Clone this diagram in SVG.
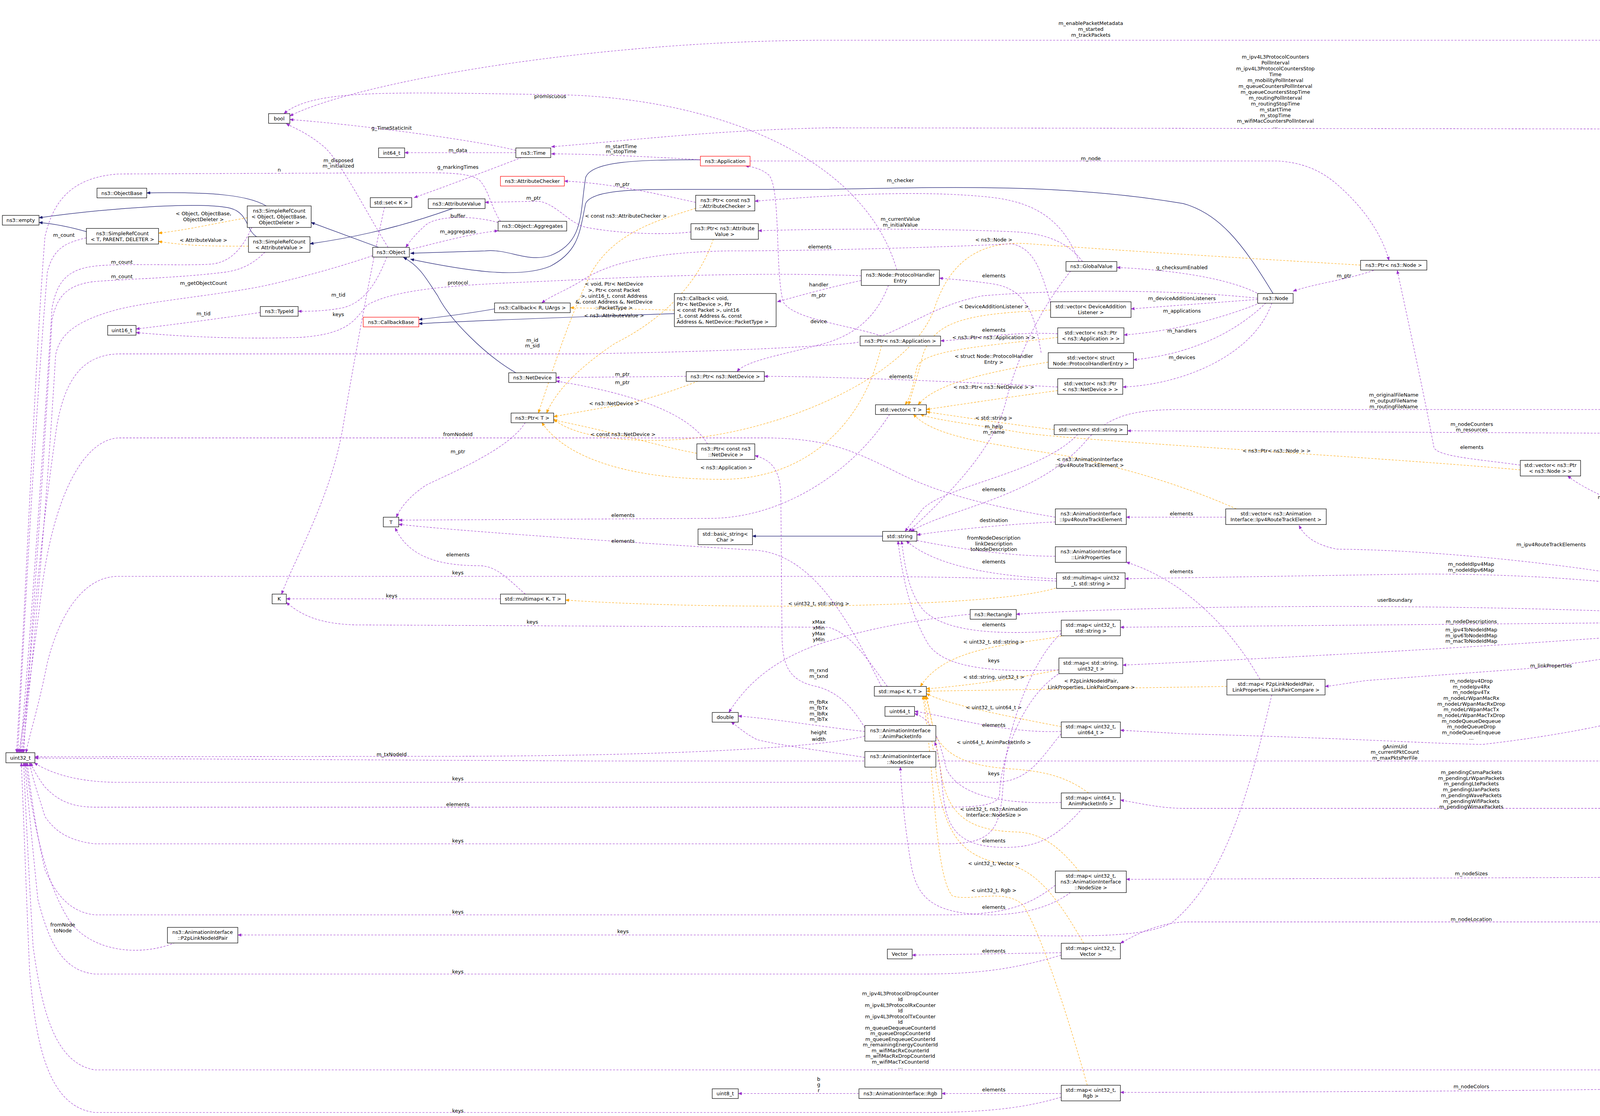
<svg xmlns="http://www.w3.org/2000/svg" width="4749" height="2856" viewBox="0 0 4749 2856">
<style>
.b rect{fill:#fff;stroke:#000;stroke-width:0.4}
.r rect{stroke:#ff0000}
.g rect{fill:#bfbfbf}
text{font-family:"DejaVu Sans","Liberation Sans",sans-serif;font-size:4.25px;fill:#000}
.b text{text-anchor:middle}
.l{text-anchor:middle}
.p{fill:none;stroke:#9a32cd;stroke-width:0.35;stroke-dasharray:1.7,1.2;marker-end:url(#ap)}
.o{fill:none;stroke:#ffa500;stroke-width:0.35;stroke-dasharray:1.7,1.2;marker-end:url(#ao)}
.n{fill:none;stroke:#191970;stroke-width:0.4;marker-end:url(#an)}
</style>
<defs>
<marker id="ap" viewBox="0 0 10 10" refX="9" refY="5" markerWidth="3.3" markerHeight="2.6" markerUnits="userSpaceOnUse" orient="auto" preserveAspectRatio="none"><path d="M0,0L10,5L0,10z" fill="#9a32cd"/></marker>
<marker id="ao" viewBox="0 0 10 10" refX="9" refY="5" markerWidth="3.3" markerHeight="2.6" markerUnits="userSpaceOnUse" orient="auto" preserveAspectRatio="none"><path d="M0,0L10,5L0,10z" fill="#ffa500"/></marker>
<marker id="an" viewBox="0 0 10 10" refX="9" refY="5" markerWidth="3.3" markerHeight="2.6" markerUnits="userSpaceOnUse" orient="auto" preserveAspectRatio="none"><path d="M0,0L10,5L0,10z" fill="#191970"/></marker>
</defs>
<rect width="4749" height="2856" fill="#fff"/>
<g transform="scale(3.02875)">
<g id="connectors">
<path class="n" d="M592,135 C540,135 500,136 495,150 C490,180 494,205 465,216 C445,222 430,210 410,212 L347,214"/>
<path class="n" d="M1076,248 C1050,205 1030,180 1000,172 C900,155 800,158 700,160 L580,160 C540,160 500,160 495,172 C490,195 490,212 465,225 C440,235 400,230 347,219"/>
<path class="n" d="M436,315 C410,300 380,270 370,250 C360,235 355,225 341,217.5"/>
<path class="n" d="M320,209 L263,188"/>
<path class="n" d="M225,174 C210,165 180,162 124,163"/>
<path class="n" d="M217,200 C208,195 210,180 195,176 C170,170 90,176 33,184"/>
<path class="n" d="M74,196 C60,192 45,189 33,188"/>
<path class="n" d="M383,176 C330,195 290,202 262,206"/>
<path class="n" d="M418,261 C390,266 370,268 354,270"/>
<path class="n" d="M570,265 C480,268 400,271 354,273.5"/>
<path class="n" d="M746,453 L636,453"/>
<path class="o" d="M209,184 C180,189 160,194 134,197"/>
<path class="o" d="M210,208 C180,208 160,208 134,204"/>
<path class="o" d="M570,262 L482,260"/>
<path class="o" d="M603,202 C590,240 560,270 520,290 C490,310 470,330 462,349"/>
<path class="o" d="M588,176 C560,185 520,195 500,230 C480,270 465,320 455,349"/>
<path class="o" d="M590,322 C570,330 540,340 520,343 C500,346 480,350 468,352"/>
<path class="o" d="M589,383 C560,378 520,365 468,355"/>
<path class="o" d="M745,292 C730,360 680,405 610,405 C540,405 480,390 458,357"/>
<path class="o" d="M1150,224 C1050,218 950,212 870,206 C820,202 800,230 790,260 C770,320 650,370 560,372 C510,373 480,365 468,354"/>
<path class="o" d="M888,262 C820,265 790,270 780,300 C775,320 770,335 768,342"/>
<path class="o" d="M894,285 C840,292 780,295 775,310 C772,325 770,335 765,342"/>
<path class="o" d="M886,306 C830,315 790,325 776,342"/>
<path class="o" d="M894,330 C850,336 810,342 783,346"/>
<path class="o" d="M891,363 C850,358 810,352 783,348"/>
<path class="o" d="M1285,397 C1150,385 900,372 860,365 C820,358 790,355 778,350"/>
<path class="o" d="M1045,430 C1000,410 950,395 900,385 C840,375 790,370 772,350"/>
<path class="o" d="M900,537 C860,545 800,545 778,580"/>
<path class="o" d="M895,566 C850,575 810,580 783,582"/>
<path class="o" d="M1037,580 L783,584"/>
<path class="o" d="M897,614 C850,605 800,595 783,586"/>
<path class="o" d="M920,670 C900,655 880,652 860,650 C820,648 800,640 790,620 C786,605 785,595 783,588"/>
<path class="o" d="M912,736 C895,715 880,704 860,703 C820,702 800,690 795,650 C790,620 786,600 782,588"/>
<path class="o" d="M916,797 C900,770 880,735 850,730 C810,725 795,700 790,640 L781,588"/>
<path class="o" d="M919,917 C900,850 880,790 865,765 C850,750 820,762 805,757 C790,740 790,650 780,588"/>
<path class="o" d="M895,496 C870,505 800,510 700,512 C600,513 520,510 478,507"/>
<path class="p" d="M1540,521.6 C1545,300 1525,60 1490,22 C1470,12 1440,13 1419,16"/>
<path class="p" d="M1536,521.6 C1530,250 1470,34 1400,34 L700,34 C500,34 300,70 245,98"/>
<path class="p" d="M1533,521.6 C1528,420 1490,180 1450,130 C1440,115 1420,109 1400,109 L700,108 C600,110 520,120 466,124"/>
<path class="p" d="M1532,521.6 C1525,420 1470,350 1400,346 L1000,346 C960,346 940,350 920,370 C880,420 800,430 770,449"/>
<path class="p" d="M1531,521.6 C1520,430 1450,366 1350,366 L953,364"/>
<path class="p" d="M1535,521.6 C1520,470 1480,432 1418,431"/>
<path class="p" d="M1530,521.6 C1515,490 1480,448 1434,447"/>
<path class="p" d="M1520,521.6 C1450,490 1250,465 1130,464 C1110,460 1102,452 1098,444"/>
<path class="p" d="M1510,522 C1450,500 1350,485 1200,485 L951,489"/>
<path class="p" d="M1508,524 C1300,509 1000,510 859,519"/>
<path class="p" d="M1507.5,525 L947,530"/>
<path class="p" d="M1507.5,527 C1300,545 1100,555 949,562"/>
<path class="p" d="M1510,529 C1450,540 1350,560 1290,565 L1155,575 C1140,577 1130,579 1120,580"/>
<path class="p" d="M1534,530 C1500,570 1420,610 1253,629 C1200,628 1150,624 1000,620 L947,617"/>
<path class="p" d="M1535,530 C1500,590 1470,643 1420,643 L500,643 C300,642 100,641 29.5,640.5"/>
<path class="p" d="M1536,530 C1520,620 1480,683 1420,683 L1000,683 C980,683 960,678 947,676"/>
<path class="p" d="M1537,530 C1530,620 1510,700 1470,706 C1450,708 1440,707 1430,704.5"/>
<path class="p" d="M1537,530 C1532,640 1500,735 1440,741 L952,743"/>
<path class="p" d="M1537,530 C1530,650 1500,770 1440,779 L1000,779 C975,781 960,790 947,797"/>
<path class="p" d="M1538,530 C1532,700 1520,850 1480,890 C1460,900 1440,904 1400,904 L80,904 C45,898 35,850 28,800 C25,750 22,690 20,644.5"/>
<path class="p" d="M1539,530 C1532,700 1500,900 1450,918 C1400,922 1000,923 947,923"/>
<path class="p" d="M758,228 C730,130 600,82 470,80 C330,78 265,75 240,96"/>
<path class="p" d="M436,127 C400,118 300,105 245,101"/>
<path class="p" d="M436,129 L342,129"/>
<path class="p" d="M592,135 C560,133 500,130 466,130"/>
<path class="p" d="M634,136 L1080,136 C1110,138 1125,150 1140,165 C1160,185 1170,205 1174,220"/>
<path class="p" d="M1161,228.5 C1140,236 1110,240 1093,246"/>
<path class="p" d="M1285,393 C1250,388 1215,386 1212,378 C1205,340 1190,270 1181,228.5"/>
<path class="p" d="M1410,443 C1380,430 1340,415 1325,402"/>
<path class="p" d="M892,441 C850,443 800,448 775,452"/>
<path class="p" d="M892,437 C850,430 800,420 760,400 C720,380 700,371 650,370 L100,370 C70,372 45,420 35,500 C25,580 20,610 16,636"/>
<path class="p" d="M1036,437 L952,437"/>
<path class="p" d="M892,470 C850,470 800,462 772,456"/>
<path class="p" d="M893,489 C840,487 790,478 766,457"/>
<path class="p" d="M897,533 C850,536 800,536 780,515 C768,500 765,480 762,457"/>
<path class="p" d="M895,566 C840,568 800,565 785,545 C770,520 763,490 759,457"/>
<path class="p" d="M750,580 C735,560 720,535 700,530 L300,528 C270,527 255,520 242,509"/>
<path class="p" d="M745,580 C720,530 690,470 640,465 C560,460 400,450 337,443"/>
<path class="p" d="M752,350 C720,400 660,438 600,438 L337,439.5"/>
<path class="p" d="M444,502 C430,490 420,478 405,478 C370,478 345,470 334,446"/>
<path class="p" d="M423,506 L242,506"/>
<path class="p" d="M444,357 C430,380 380,400 360,410 C345,420 338,430 335,437"/>
<path class="p" d="M820,519 C760,525 720,535 690,545 C650,560 630,580 616,602"/>
<path class="p" d="M731,618 C700,615 660,608 624,605"/>
<path class="p" d="M731,640 C700,635 660,630 640,625 C630,620 625,615 618,610"/>
<path class="p" d="M731,615 C722,600 710,585 690,580 C665,575 662,560 661,540 L660,420 C660,395 650,388 638,385"/>
<path class="p" d="M731,622 C700,630 600,638 400,639 L29.5,639.5"/>
<path class="p" d="M897,618 C850,620 800,605 773,601"/>
<path class="p" d="M897,678 C840,680 810,670 800,650 C795,630 790,608 773,603"/>
<path class="p" d="M915,683 C895,705 880,716 850,716 C810,716 800,700 797,670 C795,650 793,635 790,627"/>
<path class="p" d="M905,754 C890,765 870,772 840,773 C790,773 775,760 770,730 C765,700 762,670 761,648"/>
<path class="p" d="M897,805 L771,807"/>
<path class="p" d="M897,924 L796,924"/>
<path class="p" d="M726,924 L624,924"/>
<path class="p" d="M1065,574 C1040,530 1000,490 952,475"/>
<path class="p" d="M1075,587 C1060,650 1040,740 990,780 C960,795 900,790 800,790 L201,790"/>
<path class="p" d="M148,796.5 C120,808 80,805 60,780 C40,750 28,700 22,644.5"/>
<path class="p" d="M897,620 C880,640 870,661 840,661 L100,661 C70,661 45,655 29,644.5"/>
<path class="p" d="M897,568 C860,590 845,650 845,670 C845,680 830,682 800,682 L80,682 C55,682 45,672 38,665 C32,657 28,650 26,644.5"/>
<path class="p" d="M897,535 C870,560 850,620 848,660 C846,700 840,713 800,713 L80,713 C55,710 45,700 38,690 C32,670 28,660 25,644.5"/>
<path class="p" d="M892,748 C870,765 850,773 800,773 L80,773 C55,770 45,750 38,735 C30,700 26,670 23,644.5"/>
<path class="p" d="M897,807 C860,818 830,823 780,823 L80,823 C50,820 40,790 32,760 C28,720 24,680 21,644.5"/>
<path class="p" d="M897,927 C870,935 840,940 780,940 L80,940 C40,935 30,880 25,820 C22,750 20,690 18,644.5"/>
<path class="p" d="M893,491 C860,489 800,487 700,487 L100,487 C70,487 50,520 40,560 C32,600 25,620 22,636"/>
<path class="p" d="M423,187 C415,175 413,160 405,152 C395,145 370,146 340,146 L100,147 C60,150 45,170 38,200 C30,300 22,500 14,636"/>
<path class="p" d="M73,201 C55,205 45,210 40,230 C30,350 22,500 15,636"/>
<path class="p" d="M213,192 C205,210 195,221 180,223 C160,225 100,222 79,225 C55,228 48,240 44,260 C35,400 25,550 17,636"/>
<path class="p" d="M224,213 C215,222 205,228 190,230 C150,235 100,236 79,238 C55,241 48,252 44,270 C35,420 26,560 18,636"/>
<path class="p" d="M315,216 C280,228 240,238 221,242 C180,250 120,255 94,263 C60,273 50,285 47,300 C40,420 28,560 19,636"/>
<path class="p" d="M1063,252 C1000,245 900,244 830,250 C780,260 760,285 720,290 C650,296 550,298 495,299 L100,299 C70,300 55,320 48,360 C35,450 25,550 20,636"/>
<path class="p" d="M728,233 C650,230 560,233 495,236 C420,240 340,240 310,258 C300,270 295,282 255,285 C200,287 150,284 115,281"/>
<path class="p" d="M220,264 C180,270 140,275 115,278"/>
<path class="p" d="M327,217 C320,235 310,255 290,260 C275,263 262,263 252,263"/>
<path class="p" d="M325,175 C315,220 300,300 290,360 C280,420 250,470 238,502"/>
<path class="p" d="M441,133 C410,145 370,160 350,167"/>
<path class="p" d="M328,209 C310,180 290,140 275,125 C260,112 248,108 242,104.5"/>
<path class="p" d="M346,211 C370,205 400,197 421,195"/>
<path class="p" d="M421,188 C400,182 370,182 360,190 C352,197 347,203 343,209"/>
<path class="p" d="M584,196 C560,199 520,197 495,192 C480,188 470,172 455,170 L410,171"/>
<path class="p" d="M588,171 C560,165 520,155 477,153"/>
<path class="p" d="M915,221 C905,208 890,198 860,196 C800,193 700,193 641,195"/>
<path class="p" d="M912,221 C900,190 880,172 840,167 C780,160 700,165 638,170"/>
<path class="p" d="M905,229 C880,260 860,300 850,340 C840,380 800,420 768,449"/>
<path class="p" d="M911,367 C880,400 800,410 780,430 C772,440 768,445 765,449"/>
<path class="p" d="M888,256 C880,230 875,210 855,206 C820,208 700,212 615,212 C560,213 520,220 495,235 C480,245 465,250 458,256"/>
<path class="p" d="M728,237 C700,243 675,250 657,255"/>
<path class="p" d="M751,241 C740,270 720,285 690,292 C660,300 630,305 623,314"/>
<path class="p" d="M745,284 C720,275 670,270 662,255 C655,230 660,160 650,148 C643,142 635,141 630,140"/>
<path class="p" d="M580,318 L470,319"/>
<path class="p" d="M598,375 C580,345 520,330 470,322"/>
<path class="p" d="M894,327 C800,322 700,318 646,318"/>
<path class="p" d="M894,282 C850,280 820,287 795,288"/>
<path class="p" d="M880,298 C875,270 870,245 840,240 C820,237 805,236 794,235"/>
<path class="p" d="M1065,249 C1040,235 990,228 944,226"/>
<path class="p" d="M1063,253 L956,261"/>
<path class="p" d="M1065,256 C1030,270 990,280 950,283"/>
<path class="p" d="M1070,256 C1040,285 1000,300 958,304"/>
<path class="p" d="M1075,256 C1060,300 1000,325 949,327"/>
</g>
<g id="labels">
<text class="l" x="1474" y="5.5">m_f</text><text class="l" x="1474" y="10.5">m_routingF</text>
<text class="l" x="922" y="21">m_enablePacketMetadata</text><text class="l" x="922" y="26">m_started</text><text class="l" x="922" y="31">m_trackPackets</text>
<text class="l" x="1078" y="49.5">m_ipv4L3ProtocolCounters</text><text class="l" x="1078" y="54.4">PollInterval</text><text class="l" x="1078" y="59.4">m_ipv4L3ProtocolCountersStop</text><text class="l" x="1078" y="64.3">Time</text><text class="l" x="1078" y="69.3">m_mobilityPollInterval</text><text class="l" x="1078" y="74.2">m_queueCountersPollInterval</text><text class="l" x="1078" y="79.1">m_queueCountersStopTime</text><text class="l" x="1078" y="84.1">m_routingPollInterval</text><text class="l" x="1078" y="89">m_routingStopTime</text><text class="l" x="1078" y="94">m_startTime</text><text class="l" x="1078" y="98.9">m_stopTime</text><text class="l" x="1078" y="103.8">m_wifiMacCountersPollInterval</text><text class="l" x="1078" y="108.3">...</text>
<text class="l" x="465" y="83">promiscuous</text>
<text class="l" x="331" y="109.5">g_TimeStaticInit</text>
<text class="l" x="387" y="128.5">m_data</text>
<text class="l" x="525" y="125">m_startTime</text><text class="l" x="525" y="129.5">m_stopTime</text>
<text class="l" x="922" y="135.5">m_node</text>
<text class="l" x="286" y="137">m_disposed</text><text class="l" x="286" y="141.6">m_initialized</text>
<text class="l" x="236" y="145">n</text>
<text class="l" x="387" y="142.7">g_markingTimes</text>
<text class="l" x="526" y="157">m_ptr</text>
<text class="l" x="761" y="154">m_checker</text>
<text class="l" x="172" y="182">&lt; Object, ObjectBase,</text><text class="l" x="172" y="187">ObjectDeleter &gt;</text>
<text class="l" x="387" y="184">buffer</text>
<text class="l" x="529" y="184">&lt; const ns3::AttributeChecker &gt;</text>
<text class="l" x="761" y="186.5">m_currentValue</text><text class="l" x="761" y="191.5">m_initialValue</text>
<text class="l" x="387" y="197">m_aggregates</text>
<text class="l" x="54" y="200">m_count</text>
<text class="l" x="840" y="204">&lt; ns3::Node &gt;</text>
<text class="l" x="172" y="204.5">&lt; AttributeValue &gt;</text>
<text class="l" x="693" y="210">elements</text>
<text class="l" x="451" y="168.7">m_ptr</text>
<text class="l" x="103" y="223">m_count</text>
<text class="l" x="999" y="227.5">g_checksumEnabled</text>
<text class="l" x="1136" y="234.5">m_ptr</text>
<text class="l" x="840" y="234.3">elements</text>
<text class="l" x="103" y="235">m_count</text>
<text class="l" x="387" y="240.3">protocol</text>
<text class="l" x="172" y="240.7">m_getObjectCount</text>
<text class="l" x="692" y="242">handler</text>
<text class="l" x="519" y="241.5">&lt; void, Ptr&lt; NetDevice</text><text class="l" x="519" y="246.5">&gt;, Ptr&lt; const Packet</text><text class="l" x="519" y="251.5">&gt;, uint16_t, const Address</text><text class="l" x="519" y="256.5">&amp;, const Address &amp;, NetDevice</text><text class="l" x="519" y="261.5">::PacketType &gt;</text>
<text class="l" x="286" y="250.5">m_tid</text>
<text class="l" x="692" y="251">m_ptr</text>
<text class="l" x="999" y="253.5">m_deviceAdditionListeners</text>
<text class="l" x="840" y="260.5">&lt; DeviceAdditionListener &gt;</text>
<text class="l" x="999" y="264">m_applications</text>
<text class="l" x="172" y="266.5">m_tid</text>
<text class="l" x="286" y="267">keys</text>
<text class="l" x="519" y="268">&lt; ns3::AttributeValue &gt;</text>
<text class="l" x="692" y="273.2">device</text>
<text class="l" x="840" y="280.2">elements</text>
<text class="l" x="999" y="281">m_handlers</text>
<text class="l" x="840" y="286.5">&lt; ns3::Ptr&lt; ns3::Application &gt; &gt;</text>
<text class="l" x="450" y="289">m_id</text><text class="l" x="450" y="293.5">m_sid</text>
<text class="l" x="840" y="302.5">&lt; struct Node::ProtocolHandler</text><text class="l" x="840" y="307.5">Entry &gt;</text>
<text class="l" x="999" y="303.5">m_devices</text>
<text class="l" x="526" y="317.5">m_ptr</text>
<text class="l" x="761.5" y="319.5">elements</text>
<text class="l" x="526" y="324.5">m_ptr</text>
<text class="l" x="840" y="328.5">&lt; ns3::Ptr&lt; ns3::NetDevice &gt; &gt;</text>
<text class="l" x="1178" y="335">m_originalFileName</text><text class="l" x="1178" y="340">m_outputFileName</text><text class="l" x="1178" y="345">m_routingFileName</text>
<text class="l" x="519" y="342.5">&lt; ns3::NetDevice &gt;</text>
<text class="l" x="840" y="354.5">&lt; std::string &gt;</text>
<text class="l" x="1244" y="360">m_nodeCounters</text><text class="l" x="1244" y="364.5">m_resources</text>
<text class="l" x="840" y="362">m_help</text><text class="l" x="840" y="366.5">m_name</text>
<text class="l" x="387" y="368.5">fromNodeId</text>
<text class="l" x="526.6" y="368.5">&lt; const ns3::NetDevice &gt;</text>
<text class="l" x="1244" y="379.5">elements</text>
<text class="l" x="1079" y="382.5">&lt; ns3::Ptr&lt; ns3::Node &gt; &gt;</text>
<text class="l" x="387" y="383">m_ptr</text>
<text class="l" x="921" y="389.5">&lt; ns3::AnimationInterface</text><text class="l" x="921" y="394.5">::Ipv4RouteTrackElement &gt;</text>
<text class="l" x="614" y="396.5">&lt; ns3::Application &gt;</text>
<text class="l" x="840" y="415">elements</text>
<text class="l" x="1360" y="421.5">m_nodes</text>
<text class="l" x="1474" y="426.5">m_writeCallback</text>
<text class="l" x="526.6" y="436.7">elements</text>
<text class="l" x="998.6" y="435.6">elements</text>
<text class="l" x="840" y="441">destination</text>
<text class="l" x="1474" y="447.5">m_routingNc</text>
<text class="l" x="840" y="456">fromNodeDescription</text><text class="l" x="840" y="460.8">linkDescription</text><text class="l" x="840" y="465.7">toNodeDescription</text>
<text class="l" x="526.6" y="458.5">elements</text>
<text class="l" x="1311" y="461.5">m_ipv4RouteTrackElements</text>
<text class="l" x="387" y="470.2">elements</text>
<text class="l" x="840" y="476.2">elements</text>
<text class="l" x="1243.4" y="478">m_nodeIdIpv4Map</text><text class="l" x="1243.4" y="483">m_nodeIdIpv6Map</text>
<text class="l" x="998.6" y="484.5">elements</text>
<text class="l" x="387" y="485.5">keys</text>
<text class="l" x="331" y="504.8">keys</text>
<text class="l" x="1179" y="508.5">userBoundary</text>
<text class="l" x="692" y="511.3">&lt; uint32_t, std::string &gt;</text>
<text class="l" x="450" y="527">keys</text>
<text class="l" x="692" y="527">xMax</text><text class="l" x="692" y="531.9">xMin</text><text class="l" x="692" y="536.8">yMax</text><text class="l" x="692" y="541.7">yMin</text>
<text class="l" x="1243.6" y="526.5">m_nodeDescriptions</text>
<text class="l" x="840" y="529.3">elements</text>
<text class="l" x="1243.6" y="533.6">m_ipv4ToNodeIdMap</text><text class="l" x="1243.6" y="538.5">m_ipv6ToNodeIdMap</text><text class="l" x="1243.6" y="543.1">m_macToNodeIdMap</text>
<text class="l" x="840" y="543.7">&lt; uint32_t, std::string &gt;</text>
<text class="l" x="840" y="559.5">keys</text>
<text class="l" x="1311" y="563.8">m_linkProperties</text>
<text class="l" x="692" y="567.9">m_rxnd</text><text class="l" x="692" y="572.8">m_txnd</text>
<text class="l" x="840" y="573.5">&lt; std::string, uint32_t &gt;</text>
<text class="l" x="922.4" y="576.8">&lt; P2pLinkNodeIdPair,</text><text class="l" x="922.4" y="582">LinkProperties, LinkPairCompare &gt;</text>
<text class="l" x="1243.6" y="576.8">m_nodeIpv4Drop</text><text class="l" x="1243.6" y="581.6">m_nodeIpv4Rx</text><text class="l" x="1243.6" y="586.5">m_nodeIpv4Tx</text><text class="l" x="1243.6" y="591.3">m_nodeLrWpanMacRx</text><text class="l" x="1243.6" y="596.2">m_nodeLrWpanMacRxDrop</text><text class="l" x="1243.6" y="601">m_nodeLrWpanMacTx</text><text class="l" x="1243.6" y="605.8">m_nodeLrWpanMacTxDrop</text><text class="l" x="1243.6" y="610.7">m_nodeQueueDequeue</text><text class="l" x="1243.6" y="615.5">m_nodeQueueDrop</text><text class="l" x="1243.6" y="620.4">m_nodeQueueEnqueue</text><text class="l" x="1243.6" y="625">...</text>
<text class="l" x="692" y="594.5">m_fbRx</text><text class="l" x="692" y="599.5">m_fbTx</text><text class="l" x="692" y="604.5">m_lbRx</text><text class="l" x="692" y="609.2">m_lbTx</text>
<text class="l" x="840" y="599.4">&lt; uint32_t, uint64_t &gt;</text>
<text class="l" x="840" y="614.1">elements</text>
<text class="l" x="692" y="620.5">height</text><text class="l" x="692" y="625.9">width</text>
<text class="l" x="840" y="628.5">&lt; uint64_t, AnimPacketInfo &gt;</text>
<text class="l" x="1179" y="632.3">gAnimUid</text><text class="l" x="1179" y="636.9">m_currentPktCount</text><text class="l" x="1179" y="641.7">m_maxPktsPerFile</text>
<text class="l" x="331" y="639">m_txNodeId</text>
<text class="l" x="1243.6" y="654.1">m_pendingCsmaPackets</text><text class="l" x="1243.6" y="659">m_pendingLrWpanPackets</text><text class="l" x="1243.6" y="663.8">m_pendingLtePackets</text><text class="l" x="1243.6" y="668.7">m_pendingUanPackets</text><text class="l" x="1243.6" y="673.5">m_pendingWavePackets</text><text class="l" x="1243.6" y="678.4">m_pendingWifiPackets</text><text class="l" x="1243.6" y="683.2">m_pendingWimaxPackets</text>
<text class="l" x="840" y="655">keys</text>
<text class="l" x="387" y="659.5">keys</text>
<text class="l" x="387" y="681.2">elements</text>
<text class="l" x="840" y="685.2">&lt; uint32_t, ns3::Animation</text><text class="l" x="840" y="690.1">Interface::NodeSize &gt;</text>
<text class="l" x="1475.5" y="693.3">m_nodeEnergyFraction</text>
<text class="l" x="840" y="712">elements</text>
<text class="l" x="387" y="712">keys</text>
<text class="l" x="840" y="731">&lt; uint32_t, Vector &gt;</text>
<text class="l" x="1243.6" y="739.5">m_nodeSizes</text>
<text class="l" x="840" y="753.9">&lt; uint32_t, Rgb &gt;</text>
<text class="l" x="840" y="768">elements</text>
<text class="l" x="387" y="772.1">keys</text>
<text class="l" x="1243.6" y="778.1">m_nodeLocation</text>
<text class="l" x="53" y="782.8">fromNode</text><text class="l" x="53" y="787.8">toNode</text>
<text class="l" x="526.6" y="788.5">keys</text>
<text class="l" x="387" y="822.5">keys</text>
<text class="l" x="840" y="805">elements</text>
<text class="l" x="761" y="841.1">m_ipv4L3ProtocolDropCounter</text><text class="l" x="761" y="845.9">Id</text><text class="l" x="761" y="850.7">m_ipv4L3ProtocolRxCounter</text><text class="l" x="761" y="855.5">Id</text><text class="l" x="761" y="860.3">m_ipv4L3ProtocolTxCounter</text><text class="l" x="761" y="865.1">Id</text><text class="l" x="761" y="869.9">m_queueDequeueCounterId</text><text class="l" x="761" y="874.7">m_queueDropCounterId</text><text class="l" x="761" y="879.5">m_queueEnqueueCounterId</text><text class="l" x="761" y="884.3">m_remainingEnergyCounterId</text><text class="l" x="761" y="889.1">m_wifiMacRxCounterId</text><text class="l" x="761" y="893.9">m_wifiMacRxDropCounterId</text><text class="l" x="761" y="898.7">m_wifiMacTxCounterId</text><text class="l" x="761" y="903">...</text>
<text class="l" x="692" y="913.1">b</text><text class="l" x="692" y="918">g</text><text class="l" x="692" y="922.9">r</text>
<text class="l" x="1243.6" y="919.5">m_nodeColors</text>
<text class="l" x="840" y="922">elements</text>
<text class="l" x="387" y="939.9">keys</text>
</g>
<g id="n_file" class="b"><rect x="1400" y="13" width="19" height="8.2"/><text x="1409.5" y="18.6" font-weight="bold">FILE *</text></g>
<g id="n_bool" class="b"><rect x="227" y="96" width="18" height="8.2"/><text x="236" y="101.6">bool</text></g>
<g id="n_int64" class="b"><rect x="320" y="125" width="22" height="8.2"/><text x="331" y="130.6">int64_t</text></g>
<g id="n_time" class="b"><rect x="436" y="125" width="29.5" height="8.2"/><text x="450.75" y="130.6">ns3::Time</text></g>
<g id="n_app" class="b r"><rect x="592" y="132" width="42" height="8.2"/><text x="613" y="137.6">ns3::Application</text></g>
<g id="n_attrchk" class="b r"><rect x="423" y="149" width="54" height="8.2"/><text x="450" y="154.6">ns3::AttributeChecker</text></g>
<g id="n_objbase" class="b"><rect x="82" y="159" width="42" height="8.2"/><text x="103" y="164.6">ns3::ObjectBase</text></g>
<g id="n_setk" class="b"><rect x="313" y="167" width="35" height="8.2"/><text x="330.5" y="172.6">std::set&lt; K &gt;</text></g>
<g id="n_attrval" class="b"><rect x="362" y="168" width="48" height="8.2"/><text x="386" y="173.6">ns3::AttributeValue</text></g>
<g id="n_ptrac" class="b"><rect x="588" y="165" width="50" height="13.2"/><text x="613" y="170.6">ns3::Ptr&lt; const ns3</text><text x="613" y="175.55">::AttributeChecker &gt;</text></g>
<g id="n_empty" class="b"><rect x="2" y="182" width="31" height="8.2"/><text x="17.5" y="187.6">ns3::empty</text></g>
<g id="n_srcobj" class="b"><rect x="209" y="174" width="54" height="18.2"/><text x="236" y="179.6">ns3::SimpleRefCount</text><text x="236" y="184.55">&lt; Object, ObjectBase,</text><text x="236" y="189.5">ObjectDeleter &gt;</text></g>
<g id="n_aggr" class="b"><rect x="421" y="187" width="58" height="8.2"/><text x="450" y="192.6">ns3::Object::Aggregates</text></g>
<g id="n_ptrav" class="b"><rect x="584" y="189" width="57" height="13.2"/><text x="612.5" y="194.6">ns3::Ptr&lt; ns3::Attribute</text><text x="612.5" y="199.55">Value &gt;</text></g>
<g id="n_srctpd" class="b"><rect x="73" y="193" width="61" height="13.2"/><text x="103.5" y="198.6">ns3::SimpleRefCount</text><text x="103.5" y="203.55">&lt; T, PARENT, DELETER &gt;</text></g>
<g id="n_srcav" class="b"><rect x="210" y="200" width="52" height="13.2"/><text x="236" y="205.6">ns3::SimpleRefCount</text><text x="236" y="210.55">&lt; AttributeValue &gt;</text></g>
<g id="n_object" class="b"><rect x="315" y="209" width="31" height="8.2"/><text x="330.5" y="214.6">ns3::Object</text></g>
<g id="n_gv" class="b"><rect x="901" y="221" width="43" height="8.2"/><text x="922.5" y="226.6">ns3::GlobalValue</text></g>
<g id="n_ptrnode" class="b"><rect x="1150" y="220" width="56" height="8.2"/><text x="1178" y="225.6">ns3::Ptr&lt; ns3::Node &gt;</text></g>
<g id="n_phe" class="b"><rect x="728" y="228" width="66" height="13.2"/><text x="761" y="233.6">ns3::Node::ProtocolHandler</text><text x="761" y="238.55">Entry</text></g>
<g id="n_vdal" class="b"><rect x="888" y="255" width="68" height="13.2"/><text x="922" y="260.6">std::vector&lt; DeviceAddition</text><text x="922" y="265.55">Listener &gt;</text></g>
<g id="n_node" class="b"><rect x="1063" y="248" width="30" height="8.2"/><text x="1078" y="253.6">ns3::Node</text></g>
<g id="n_typeid" class="b"><rect x="220" y="259" width="32" height="8.2"/><text x="236" y="264.6">ns3::TypeId</text></g>
<g id="n_cbru" class="b"><rect x="418" y="256" width="64" height="8.2"/><text x="450" y="261.6">ns3::Callback&lt; R, UArgs &gt;</text></g>
<g id="n_cbv" class="b"><rect x="570" y="248" width="86" height="28"/><text x="572" y="253.6" style="text-anchor:start">ns3::Callback&lt; void,</text><text x="572" y="258.55" style="text-anchor:start"> Ptr&lt; NetDevice &gt;, Ptr</text><text x="572" y="263.5" style="text-anchor:start">&lt; const Packet &gt;, uint16</text><text x="572" y="268.45" style="text-anchor:start">_t, const Address &amp;, const</text><text x="572" y="273.4" style="text-anchor:start"> Address &amp;, NetDevice::PacketType &gt;</text></g>
<g id="n_cbb" class="b r"><rect x="307" y="268" width="47" height="8.2"/><text x="330.5" y="273.6">ns3::CallbackBase</text></g>
<g id="n_u16" class="b"><rect x="91" y="275" width="24" height="8.2"/><text x="103" y="280.6">uint16_t</text></g>
<g id="n_vpapp" class="b"><rect x="894" y="277" width="56" height="13.2"/><text x="922" y="282.6">std::vector&lt; ns3::Ptr</text><text x="922" y="287.55">&lt; ns3::Application &gt; &gt;</text></g>
<g id="n_papp" class="b"><rect x="727" y="284" width="68" height="8.2"/><text x="761" y="289.6">ns3::Ptr&lt; ns3::Application &gt;</text></g>
<g id="n_vphe" class="b"><rect x="886" y="298" width="72" height="13.2"/><text x="922" y="303.6">std::vector&lt; struct</text><text x="922" y="308.55">Node::ProtocolHandlerEntry &gt;</text></g>
<g id="n_netdev" class="b"><rect x="430" y="315" width="40" height="8.2"/><text x="450" y="320.6">ns3::NetDevice</text></g>
<g id="n_pnd" class="b"><rect x="580" y="314" width="66" height="8.2"/><text x="613" y="319.6">ns3::Ptr&lt; ns3::NetDevice &gt;</text></g>
<g id="n_vpnd" class="b"><rect x="894" y="320" width="55" height="13.2"/><text x="921.5" y="325.6">std::vector&lt; ns3::Ptr</text><text x="921.5" y="330.55">&lt; ns3::NetDevice &gt; &gt;</text></g>
<g id="n_ptrt" class="b"><rect x="432" y="349" width="36" height="8.2"/><text x="450" y="354.6">ns3::Ptr&lt; T &gt;</text></g>
<g id="n_vect" class="b"><rect x="740" y="342" width="43" height="8.2"/><text x="761.5" y="347.6">std::vector&lt; T &gt;</text></g>
<g id="n_vstr" class="b"><rect x="891" y="359" width="62" height="8.2"/><text x="922" y="364.6">std::vector&lt; std::string &gt;</text></g>
<g id="n_pcnd" class="b"><rect x="589" y="375" width="49" height="13.2"/><text x="613.5" y="380.6">ns3::Ptr&lt; const ns3</text><text x="613.5" y="385.55">::NetDevice &gt;</text></g>
<g id="n_vpnode" class="b"><rect x="1285" y="389" width="51" height="13.2"/><text x="1310.5" y="394.6">std::vector&lt; ns3::Ptr</text><text x="1310.5" y="399.55">&lt; ns3::Node &gt; &gt;</text></g>
<g id="n_t" class="b"><rect x="324" y="437" width="13" height="8.2"/><text x="330.5" y="442.6">T</text></g>
<g id="n_ipv4rte" class="b"><rect x="892" y="430" width="60" height="13.2"/><text x="922" y="435.6">ns3::AnimationInterface</text><text x="922" y="440.55">::Ipv4RouteTrackElement</text></g>
<g id="n_vipv4" class="b"><rect x="1036" y="430" width="85" height="13.2"/><text x="1078.5" y="435.6">std::vector&lt; ns3::Animation</text><text x="1078.5" y="440.55">Interface::Ipv4RouteTrackElement &gt;</text></g>
<g id="n_char" class="b"><rect x="1401" y="426" width="17" height="8.2"/><text x="1409.5" y="431.6">char</text></g>
<g id="n_nc" class="b"><rect x="1384" y="443" width="50" height="8.2"/><text x="1409" y="448.6">ns3::NodeContainer</text></g>
<g id="n_bstr" class="b"><rect x="590" y="447" width="46" height="13.2"/><text x="613" y="452.6">std::basic_string&lt;</text><text x="613" y="457.55">Char &gt;</text></g>
<g id="n_str" class="b"><rect x="746" y="449" width="29" height="8.2"/><text x="760.5" y="454.6">std::string</text></g>
<g id="n_linkp" class="b"><rect x="892" y="462" width="60" height="13.2"/><text x="922" y="467.6">ns3::AnimationInterface</text><text x="922" y="472.55">::LinkProperties</text></g>
<g id="n_mmus" class="b"><rect x="893" y="484" width="58" height="13.2"/><text x="922" y="489.6">std::multimap&lt; uint32</text><text x="922" y="494.55">_t, std::string &gt;</text></g>
<g id="n_mmkt" class="b"><rect x="423" y="502" width="55" height="8.2"/><text x="450.5" y="507.6">std::multimap&lt; K, T &gt;</text></g>
<g id="n_k" class="b"><rect x="230" y="502" width="12" height="8.2"/><text x="236" y="507.6">K</text></g>
<g id="n_rect" class="b"><rect x="820" y="515" width="39" height="8.2"/><text x="839.5" y="520.6">ns3::Rectangle</text></g>
<g id="n_ai" class="b g"><rect x="1507.5" y="521.6" width="58.5" height="8.6"/><text x="1536.75" y="527.4">ns3::AnimationInterface</text></g>
<g id="n_mus" class="b"><rect x="897" y="524" width="50" height="13.2"/><text x="922" y="529.6">std::map&lt; uint32_t,</text><text x="922" y="534.55">std::string &gt;</text></g>
<g id="n_msu" class="b"><rect x="895" y="556" width="54" height="13.2"/><text x="922" y="561.6">std::map&lt; std::string,</text><text x="922" y="566.55">uint32_t &gt;</text></g>
<g id="n_mp2p" class="b"><rect x="1037" y="574" width="83" height="13.2"/><text x="1078.5" y="579.6">std::map&lt; P2pLinkNodeIdPair,</text><text x="1078.5" y="584.55">LinkProperties, LinkPairCompare &gt;</text></g>
<g id="n_mkt" class="b"><rect x="739" y="580" width="44" height="8.2"/><text x="761" y="585.6">std::map&lt; K, T &gt;</text></g>
<g id="n_u64" class="b"><rect x="748" y="597" width="25" height="8.2"/><text x="760.5" y="602.6">uint64_t</text></g>
<g id="n_double" class="b"><rect x="602" y="602" width="22" height="8.2"/><text x="613" y="607.6">double</text></g>
<g id="n_muu64" class="b"><rect x="897" y="610" width="50" height="13.2"/><text x="922" y="615.6">std::map&lt; uint32_t,</text><text x="922" y="620.55">uint64_t &gt;</text></g>
<g id="n_api" class="b"><rect x="731" y="613" width="60" height="13.2"/><text x="761" y="618.6">ns3::AnimationInterface</text><text x="761" y="623.55">::AnimPacketInfo</text></g>
<g id="n_u32" class="b"><rect x="5" y="636" width="24.5" height="8.5"/><text x="17.25" y="641.7">uint32_t</text></g>
<g id="n_ns" class="b"><rect x="731" y="635" width="60" height="13.2"/><text x="761" y="640.6">ns3::AnimationInterface</text><text x="761" y="645.55">::NodeSize</text></g>
<g id="n_mapi" class="b"><rect x="897" y="670" width="50" height="13.2"/><text x="922" y="675.6">std::map&lt; uint64_t,</text><text x="922" y="680.55">AnimPacketInfo &gt;</text></g>
<g id="n_mud" class="b"><rect x="1378" y="696" width="62" height="8.5"/><text x="1409" y="701.7">map&lt; uint32_t, double &gt;</text></g>
<g id="n_muns" class="b"><rect x="892" y="736" width="60" height="18.2"/><text x="922" y="741.6">std::map&lt; uint32_t,</text><text x="922" y="746.55">ns3::AnimationInterface</text><text x="922" y="751.5">::NodeSize &gt;</text></g>
<g id="n_p2p" class="b"><rect x="141.5" y="783.6" width="59.5" height="13.2"/><text x="171.25" y="789.2">ns3::AnimationInterface</text><text x="171.25" y="794.15">::P2pLinkNodeIdPair</text></g>
<g id="n_vector" class="b"><rect x="750" y="802" width="21" height="8.2"/><text x="760.5" y="807.6">Vector</text></g>
<g id="n_muv" class="b"><rect x="897" y="797" width="50" height="13.2"/><text x="922" y="802.6">std::map&lt; uint32_t,</text><text x="922" y="807.55">Vector &gt;</text></g>
<g id="n_u8" class="b"><rect x="602" y="920" width="22" height="8.2"/><text x="613" y="925.6">uint8_t</text></g>
<g id="n_rgb" class="b"><rect x="726" y="920" width="70" height="8.2"/><text x="761" y="925.6">ns3::AnimationInterface::Rgb</text></g>
<g id="n_murgb" class="b"><rect x="897" y="917" width="50" height="13.2"/><text x="922" y="922.6">std::map&lt; uint32_t,</text><text x="922" y="927.55">Rgb &gt;</text></g>
</g>
</svg>
